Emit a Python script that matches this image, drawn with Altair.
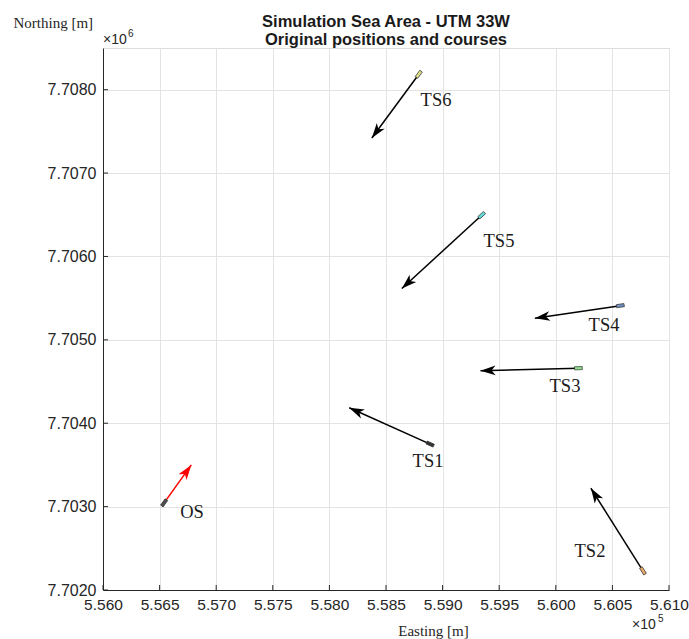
import altair as alt
import numpy as np
import pandas as pd

# Vessels: own ship (OS) and target ships (TS1..TS6), UTM 33W coordinates [m]
names = ["OS", "TS1", "TS2", "TS3", "TS4", "TS5", "TS6"]
start_e = [556540, 558890, 560770, 560200, 560570, 559345, 558790]
start_n = [7703045, 7703750, 7702230, 7704660, 7705410, 7706495, 7708185]
end_e = [556780, 558175, 560310, 559335, 559815, 558640, 558375]
end_n = [7703500, 7704185, 7703220, 7704630, 7705260, 7705615, 7707420]
label_e = [556786, 558871, 560302, 560081, 560426, 559498, 558942]
label_n = [7702935, 7703547, 7702468, 7704446, 7705177, 7706185, 7707875]
hull_colors = ["#4d4d4d", "#333333", "#e8a96a", "#8fe08f", "#6f8fc0", "#66d8d8", "#e0e08a"]
course_colors = ["#ff0000", "#000000", "#000000", "#000000", "#000000", "#000000", "#000000"]

x_ticks = list(range(556000, 561001, 500))
y_ticks = list(range(7702000, 7708001, 1000))
x_dom = [556000, 561000]
y_dom = [7702000, 7708500]

title_lines = ["Simulation Sea Area - UTM 33W", "Original positions and courses"]

PLOT_W, PLOT_H = 566, 542

df = pd.DataFrame({
    "name": names, "e0": start_e, "n0": start_n, "e1": end_e, "n1": end_n,
    "le": label_e, "ln": label_n, "hull": hull_colors, "course": course_colors,
})
# heading on screen (clockwise from up), accounting for unequal axis scaling
sx = PLOT_W / (x_dom[1] - x_dom[0])
sy = PLOT_H / (y_dom[1] - y_dom[0])
df["angle"] = np.mod(np.degrees(np.arctan2((df.e1 - df.e0) * sx, (df.n1 - df.n0) * sy)), 360)

xs = alt.Scale(domain=x_dom, nice=False, zero=False)
ys = alt.Scale(domain=y_dom, nice=False, zero=False)

AX = "#262626"
x_axis = alt.Axis(
    values=x_ticks, labelExpr="format(datum.value / 1e5, '.3f')",
    labelFlush=False, labelOverlap=False, labelBound=False,
    title="Easting [m]", titleFont="Liberation Serif", titleFontSize=15, titleFontWeight="normal",
    titleColor=AX, titleX=330, titleY=40, titleBaseline="middle",
    labelFont="Liberation Sans", labelFontSize=15.5, labelColor=AX, labelPadding=7,
    grid=True, gridColor="#e3e3e3", gridWidth=1, ticks=False,
    domainColor=AX, domainWidth=1,
)
y_axis = alt.Axis(
    values=y_ticks, labelExpr="format(datum.value / 1e6, '.4f')",
    labelFlush=False, labelOverlap=False, labelBound=False,
    title="Northing [m]", titleFont="Liberation Serif", titleFontSize=15, titleFontWeight="normal",
    titleColor=AX, titleAngle=0, titleX=-90, titleY=-26, titleAlign="left", titleBaseline="middle",
    labelFont="Liberation Sans", labelFontSize=16, labelColor=AX, labelPadding=7,
    grid=True, gridColor="#e3e3e3", gridWidth=1, ticks=False,
    domainColor=AX, domainWidth=1,
)

base = alt.Chart(df)

courses = base.mark_rule(strokeWidth=1.5).encode(
    x=alt.X("e0:Q", scale=xs, axis=x_axis),
    y=alt.Y("n0:Q", scale=ys, axis=y_axis),
    x2="e1:Q", y2="n1:Q",
    color=alt.Color("course:N", scale=None),
)

head_path = "M0,0L0.62,1.9L0,1.4L-0.62,1.9Z"
heads = base.mark_point(shape=head_path, filled=True, size=250, opacity=1).encode(
    x=alt.X("e1:Q", scale=xs), y=alt.Y("n1:Q", scale=ys),
    angle=alt.Angle("angle:Q", scale=None),
    color=alt.Color("course:N", scale=None),
)

hull_path = "M-0.4,-1L0.4,-1L0.4,1L-0.4,1Z"
hulls = base.mark_point(shape=hull_path, filled=True, size=60, opacity=1,
                        stroke="#333333", strokeWidth=0.7).encode(
    x=alt.X("e0:Q", scale=xs), y=alt.Y("n0:Q", scale=ys),
    angle=alt.Angle("angle:Q", scale=None),
    fill=alt.Fill("hull:N", scale=None),
)

labels = base.mark_text(font="Liberation Serif", fontSize=18.5, color="#1a1a1a",
                        align="center", baseline="middle").encode(
    x=alt.X("le:Q", scale=xs), y=alt.Y("ln:Q", scale=ys), text="name:N",
)

# inward tick marks on the left and bottom axes
xt = alt.Chart(pd.DataFrame({"v": x_ticks})).mark_rule(color=AX, strokeWidth=1).encode(
    x=alt.X("v:Q", scale=xs), y=alt.value(PLOT_H), y2=alt.value(PLOT_H - 5))
yt = alt.Chart(pd.DataFrame({"v": y_ticks})).mark_rule(color=AX, strokeWidth=1).encode(
    y=alt.Y("v:Q", scale=ys), x=alt.value(0), x2=alt.value(5))

# axis exponent annotations
exp_df = pd.DataFrame({"t": ["\u00d710", "6", "\u00d710", "5"],
                       "px": [0, 25, 529, 555], "py": [-8, -14, 577, 571],
                       "fs": [14, 10, 14, 10]})
exps = alt.Chart(exp_df).mark_text(font="Liberation Sans", color=AX, align="left",
                                   baseline="middle").encode(
    x=alt.X("px:Q", scale=None), y=alt.Y("py:Q", scale=None), text="t:N",
    size=alt.Size("fs:Q", scale=None),
)

# two-line bold heading above the plot
ttl_df = pd.DataFrame({"t": title_lines, "py": [-26, -8]})
ttl = alt.Chart(ttl_df).mark_text(font="Liberation Sans", fontSize=16.5, fontWeight="bold",
                                  color="#1a1a1a", align="center", baseline="middle").encode(
    x=alt.value(PLOT_W / 2), y=alt.Y("py:Q", scale=None), text="t:N",
)

chart = alt.layer(courses, xt, yt, heads, hulls, labels, exps, ttl).properties(
    width=PLOT_W, height=PLOT_H,
    autosize=alt.AutoSizeParams(type="none"),
    padding={"left": 103, "top": 48, "right": 20, "bottom": 49},
).configure_view(stroke=None).configure(background="white")

chart.save("out.html", embed_options={"renderer": "svg", "actions": False})
